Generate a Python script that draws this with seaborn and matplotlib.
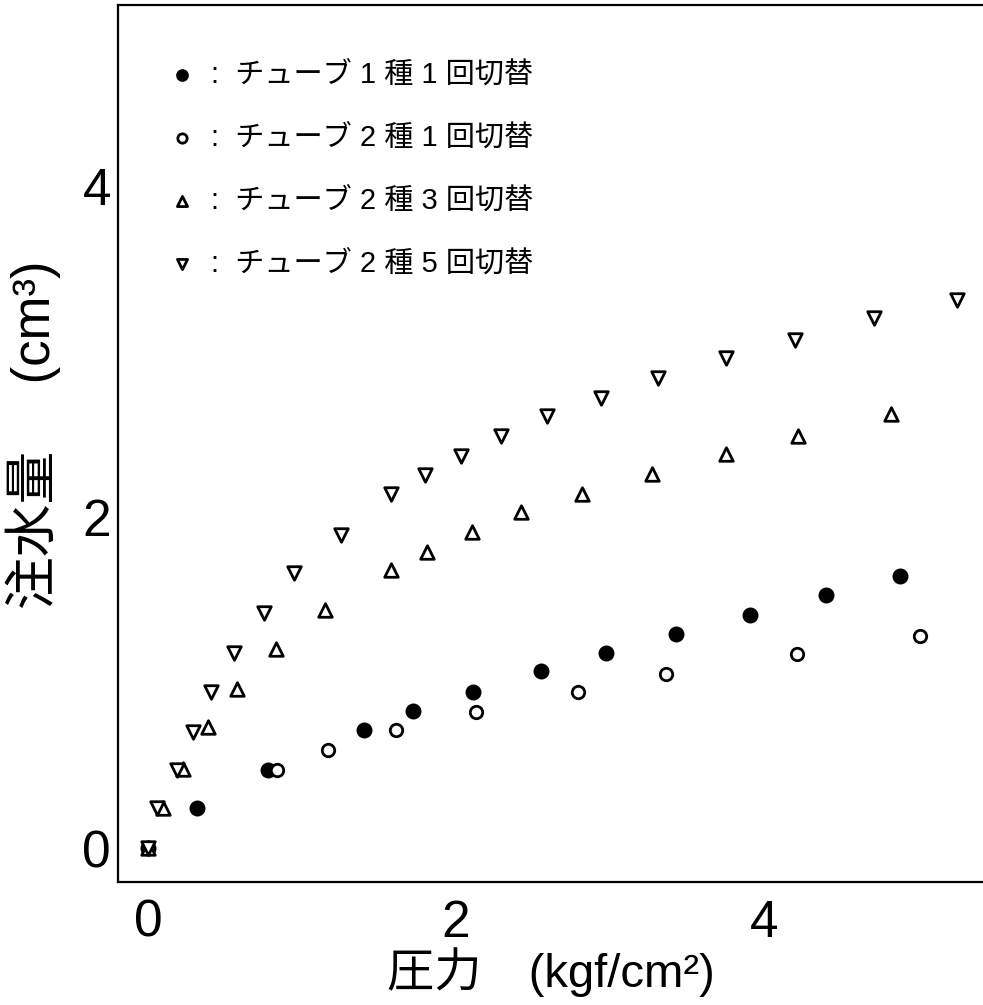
import numpy as np
import pandas as pd
import matplotlib
matplotlib.use('Agg')
import matplotlib.pyplot as plt
import seaborn as sns

sns.set_style('white')
plt.rcParams['font.family'] = ['Liberation Sans', 'Noto Sans CJK JP', 'DejaVu Sans']
plt.rcParams['text.color'] = 'black'
plt.rcParams['axes.labelcolor'] = 'black'
plt.rcParams['xtick.color'] = 'black'
plt.rcParams['ytick.color'] = 'black'

# Series: pressure (kgf/cm2) vs injected water (cm3)
x_t1_1 = [0.00, 0.32, 0.78, 1.40, 1.72, 2.11, 2.55, 2.97, 3.43, 3.91, 4.40, 4.88]
y_t1_1 = [0.00, 0.24, 0.47, 0.71, 0.83, 0.94, 1.07, 1.18, 1.29, 1.41, 1.53, 1.64]

x_t2_1 = [0.00, 0.84, 1.17, 1.61, 2.13, 2.79, 3.36, 4.21, 5.01]
y_t2_1 = [0.00, 0.47, 0.59, 0.71, 0.82, 0.94, 1.05, 1.17, 1.28]

x_t2_3 = [0.00, 0.10, 0.23, 0.39, 0.58, 0.83, 1.15, 1.58, 1.81, 2.10, 2.42, 2.82, 3.27, 3.75, 4.22, 4.82]
y_t2_3 = [0.00, 0.24, 0.48, 0.73, 0.96, 1.20, 1.44, 1.68, 1.79, 1.91, 2.03, 2.14, 2.26, 2.38, 2.49, 2.62]

x_t2_5 = [0.00, 0.06, 0.19, 0.29, 0.41, 0.56, 0.75, 0.95, 1.25, 1.58, 1.80, 2.03, 2.29, 2.59, 2.94, 3.31, 3.75, 4.20, 4.71, 5.25]
y_t2_5 = [0.00, 0.24, 0.47, 0.70, 0.94, 1.18, 1.42, 1.66, 1.89, 2.14, 2.25, 2.37, 2.49, 2.61, 2.72, 2.84, 2.96, 3.07, 3.20, 3.31]

labels = [':  チューブ 1 種 1 回切替',
          ':  チューブ 2 種 1 回切替',
          ':  チューブ 2 種 3 回切替',
          ':  チューブ 2 種 5 回切替']

series = [
    (x_t1_1, y_t1_1, 'o', 'black', 90, labels[0]),
    (x_t2_1, y_t2_1, 'o', 'white', 80, labels[1]),
    (x_t2_3, y_t2_3, '^', 'white', 95, labels[2]),
    (x_t2_5, y_t2_5, 'v', 'white', 95, labels[3]),
]

fig = plt.figure(figsize=(9.83, 10.05), dpi=100)
ax = fig.add_axes([118 / 983, 123 / 1005, 865 / 983, 877 / 1005])

for xs, ys, m, fc, s, lab in series:
    df = pd.DataFrame({'x': xs, 'y': ys})
    sns.scatterplot(data=df, x='x', y='y', marker=m, s=s, facecolor=fc,
                    edgecolor='black', linewidth=2.0, ax=ax, label=lab, zorder=3)

ax.set_xlim(-0.195, 5.42)
ax.set_ylim(-0.205, 5.09)
ax.set_xticks([0, 2, 4])
ax.set_yticks([0, 2, 4])
ax.tick_params(axis='both', length=0, labelsize=37)
ax.tick_params(axis='x', pad=12)
ax.tick_params(axis='y', pad=5)
for sp in ['left', 'bottom', 'top']:
    ax.spines[sp].set_linewidth(1.6)
    ax.spines[sp].set_color('black')
ax.spines['right'].set_visible(False)

ax.set_xlabel('圧力　(kgf/cm²)', fontsize=34, labelpad=0)
ax.set_ylabel('注水量　 (cm³)', fontsize=38)
ax.yaxis.set_label_coords(-0.066, 0.51)

leg = ax.legend(loc='upper left', bbox_to_anchor=(0.027, 0.966), frameon=False,
                fontsize=21, markerscale=0.75, handletextpad=0.5,
                labelspacing=1.2, handlelength=1.0)

fig.savefig('out.png', dpi=100)
